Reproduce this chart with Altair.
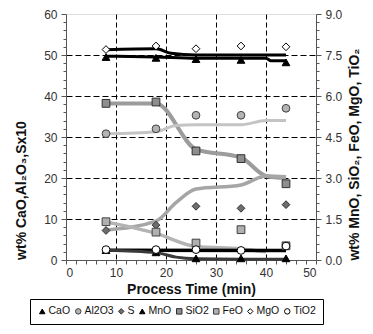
import altair as alt
import pandas as pd

FONT = "Liberation Sans"

# ---------------- data ----------------
times = [8, 18, 26, 35, 44]

# left axis series (wt%)
cao = [49.5, 49.3, 49.0, 48.8, 48.2]
al2o3 = [30.8, 32.0, 35.3, 35.3, 37.0]
s_x10 = [7.2, 8.5, 13.1, 12.6, 13.5]

# right axis series (wt%)
mno = [0.36, 0.28, 0.06, 0.06, 0.06]
sio2 = [5.73, 5.78, 3.99, 3.71, 2.79]
feo = [1.40, 1.02, 0.62, 1.11, 0.52]
mgo = [7.70, 7.83, 7.73, 7.83, 7.80]
tio2 = [0.38, 0.38, 0.38, 0.35, 0.51]

series_order = ["CaO", "Al2O3", "S", "MnO", "SiO2", "FeO", "MgO", "TiO2"]
shapes = ["triangle-up", "circle", "diamond", "triangle-up", "square", "square", "diamond", "circle"]
fills = ["#000000", "#b4b4b4", "#6e6e6e", "#000000", "#8e8e8e", "#b0b0b0", "#ffffff", "#ffffff"]
strokes = ["#000000", "#404040", "#303030", "#000000", "#303030", "#404040", "#000000", "#000000"]

# trend lines (in left-axis units)
trend_names = ["upper_black", "lower_black", "sio2_tr", "al2o3_tr", "rise_tr", "fall_tr", "flat_black", "mno_tr"]
trend_x = {
    "upper_black": [8, 18, 21, 26, 35, 44],
    "lower_black": [8, 18, 26, 40, 41, 44],
    "sio2_tr": [8, 18, 26, 35, 40, 44],
    "al2o3_tr": [8, 18, 22, 26, 35, 40, 44],
    "rise_tr": [8, 18, 22, 26, 35, 40, 44],
    "fall_tr": [8, 18, 26, 35, 40],
    "flat_black": [8, 44],
    "mno_tr": [8, 18, 22, 26, 35, 44],
}
trend_y = {
    "upper_black": [51.3, 51.5, 50.4, 50.0, 50.0, 50.0],
    "lower_black": [49.7, 49.5, 49.2, 49.2, 48.6, 48.6],
    "sio2_tr": [38.2, 38.2, 27.0, 25.0, 20.5, 20.0],
    "al2o3_tr": [30.8, 31.3, 32.8, 33.0, 33.0, 34.0, 34.0],
    "rise_tr": [7.3, 9.5, 14.0, 17.3, 18.3, 20.5, 20.3],
    "fall_tr": [9.3, 6.5, 3.3, 2.7, 2.0],
    "flat_black": [2.4, 2.3],
    "mno_tr": [2.4, 1.8, 0.7, 0.3, 0.2, 0.2],
}
trend_color = {
    "upper_black": "#000000", "lower_black": "#000000", "sio2_tr": "#9c9c9c",
    "al2o3_tr": "#c4c4c4", "rise_tr": "#a6a6a6", "fall_tr": "#b4b4b4",
    "flat_black": "#000000", "mno_tr": "#3a3a3a",
}
trend_width = {
    "upper_black": 3, "lower_black": 3, "sio2_tr": 4, "al2o3_tr": 3,
    "rise_tr": 3.5, "fall_tr": 3.5, "flat_black": 3.5, "mno_tr": 3,
}

# ---------------- frames ----------------
left_rows = []
for name, vals in [("CaO", cao), ("Al2O3", al2o3), ("S", s_x10)]:
    for t, v in zip(times, vals):
        left_rows.append({"time": t, "value": v, "series": name})
right_rows = []
for name, vals in [("MnO", mno), ("SiO2", sio2), ("FeO", feo), ("MgO", mgo), ("TiO2", tio2)]:
    for t, v in zip(times, vals):
        right_rows.append({"time": t, "value": v, "series": name})
trend_rows = []
for n in trend_names:
    for t, v in zip(trend_x[n], trend_y[n]):
        trend_rows.append({"time": t, "value": v, "trend": n})

left_df = pd.DataFrame(left_rows)
right_df = pd.DataFrame(right_rows)
trend_df = pd.DataFrame(trend_rows)

# ---------------- scales/axes ----------------
xvals = list(range(0, 51, 2))
x_enc = alt.X(
    "time:Q",
    scale=alt.Scale(domain=[0, 50], nice=False, zero=False),
    axis=alt.Axis(
        values=xvals,
        labelExpr="datum.value % 10 === 0 ? datum.label : ''",
        title="Process Time (min)",
        grid=True,
        gridColor="#000000",
        gridDash=[5, 3],
        gridOpacity={"condition": {"test": "datum.value % 10 === 0 && datum.value > 0 && datum.value < 50", "value": 1}, "value": 0},
        tickSize=4,
        tickColor="#555555",
        domainColor="#555555",
        labelFont=FONT, labelFontSize=12, labelColor="#333333", labelPadding=3,
        titleFont=FONT, titleFontSize=14, titleFontWeight="bold", titleColor="#111111",
        titlePadding=4,
    ),
)

shape_scale = alt.Scale(domain=series_order, range=shapes)
fill_scale = alt.Scale(domain=series_order, range=fills)
stroke_scale = alt.Scale(domain=series_order, range=strokes)

leg = alt.Legend(
    title=None, orient="none", legendX=-36, legendY=285, direction="horizontal",
    columns=8, columnPadding=2, labelOffset=1, symbolSize=30, symbolStrokeWidth=1,
    labelFont=FONT, labelFontSize=10.5, labelColor="#111111",
    strokeColor="#000000", padding=7, fillColor="#ffffff",
)


def point_enc(chart):
    return chart.encode(
        x=x_enc,
        shape=alt.Shape("series:N", scale=shape_scale, legend=leg, sort=series_order),
        fill=alt.Fill("series:N", scale=fill_scale, legend=leg, sort=series_order),
        stroke=alt.Stroke("series:N", scale=stroke_scale, legend=leg, sort=series_order),
    )


yl_vals = list(range(0, 61, 2))
y_left = alt.Y(
    "value:Q",
    scale=alt.Scale(domain=[0, 60], nice=False),
    axis=alt.Axis(
        values=yl_vals,
        labelExpr="datum.value % 10 === 0 ? datum.label : ''",
        title="wt% CaO,Al₂O₃,Sx10",
        titleY=176,
        grid=True, gridColor="#000000", gridDash=[6, 3],
        gridOpacity={"condition": {"test": "datum.value % 10 === 0 && datum.value > 0 && datum.value < 60", "value": 1}, "value": 0},
        tickSize={"condition": {"test": "datum.value % 10 === 0", "value": 5}, "value": 3},
        tickColor="#555555", domainColor="#555555",
        labelFont=FONT, labelFontSize=12, labelColor="#333333", labelPadding=4,
        titleFont=FONT, titleFontSize=14, titleFontWeight="bold", titleColor="#111111",
        titlePadding=15,
    ),
)

yr_vals = [round(i * 0.3, 1) for i in range(31)]
y_right = alt.Y(
    "value:Q",
    scale=alt.Scale(domain=[0, 9], nice=False),
    axis=alt.Axis(
        orient="right",
        values=yr_vals,
        format=".1f",
        labelExpr="abs(datum.value / 1.5 - round(datum.value / 1.5)) < 0.001 ? datum.label : ''",
        title="wt% MnO, SiO₂, FeO, MgO, TiO₂",
        titleAngle=270,
        titleBaseline="top",
        titleY=140,
        grid=False,
        tickSize={"condition": {"test": "abs(datum.value / 1.5 - round(datum.value / 1.5)) < 0.001", "value": 5}, "value": 3},
        tickColor="#555555", domainColor="#555555",
        labelFont=FONT, labelFontSize=12, labelColor="#333333", labelPadding=4,
        titleFont=FONT, titleFontSize=14, titleFontWeight="bold", titleColor="#111111",
        titlePadding=6,
    ),
)

# ---------------- layers ----------------
trend_layers = []
for n in trend_names:
    trend_layers.append(
        alt.Chart(trend_df)
        .transform_filter(alt.datum.trend == n)
        .mark_line(color=trend_color[n], strokeWidth=trend_width[n], interpolate="monotone")
        .encode(x=x_enc, y=y_left)
    )

left_points = point_enc(
    alt.Chart(left_df).mark_point(size=60, opacity=1, strokeWidth=1)
).encode(y=y_left)

right_points = point_enc(
    alt.Chart(right_df).mark_point(size=60, opacity=1, strokeWidth=1)
).encode(y=y_right)

left_layer = alt.layer(*trend_layers, left_points)
right_layer = alt.layer(right_points)

chart = (
    alt.layer(left_layer, right_layer)
    .resolve_scale(y="independent")
    .properties(
        width=250, height=246,
        padding={"left": 58, "top": 6, "right": 49, "bottom": 74},
        autosize=alt.AutoSizeParams(type="none"),
    )
    .configure_view(stroke="#666666", strokeWidth=1)
    .configure(background="#ffffff")
)

chart.save("out.html", embed_options={"renderer": "svg", "actions": False})
